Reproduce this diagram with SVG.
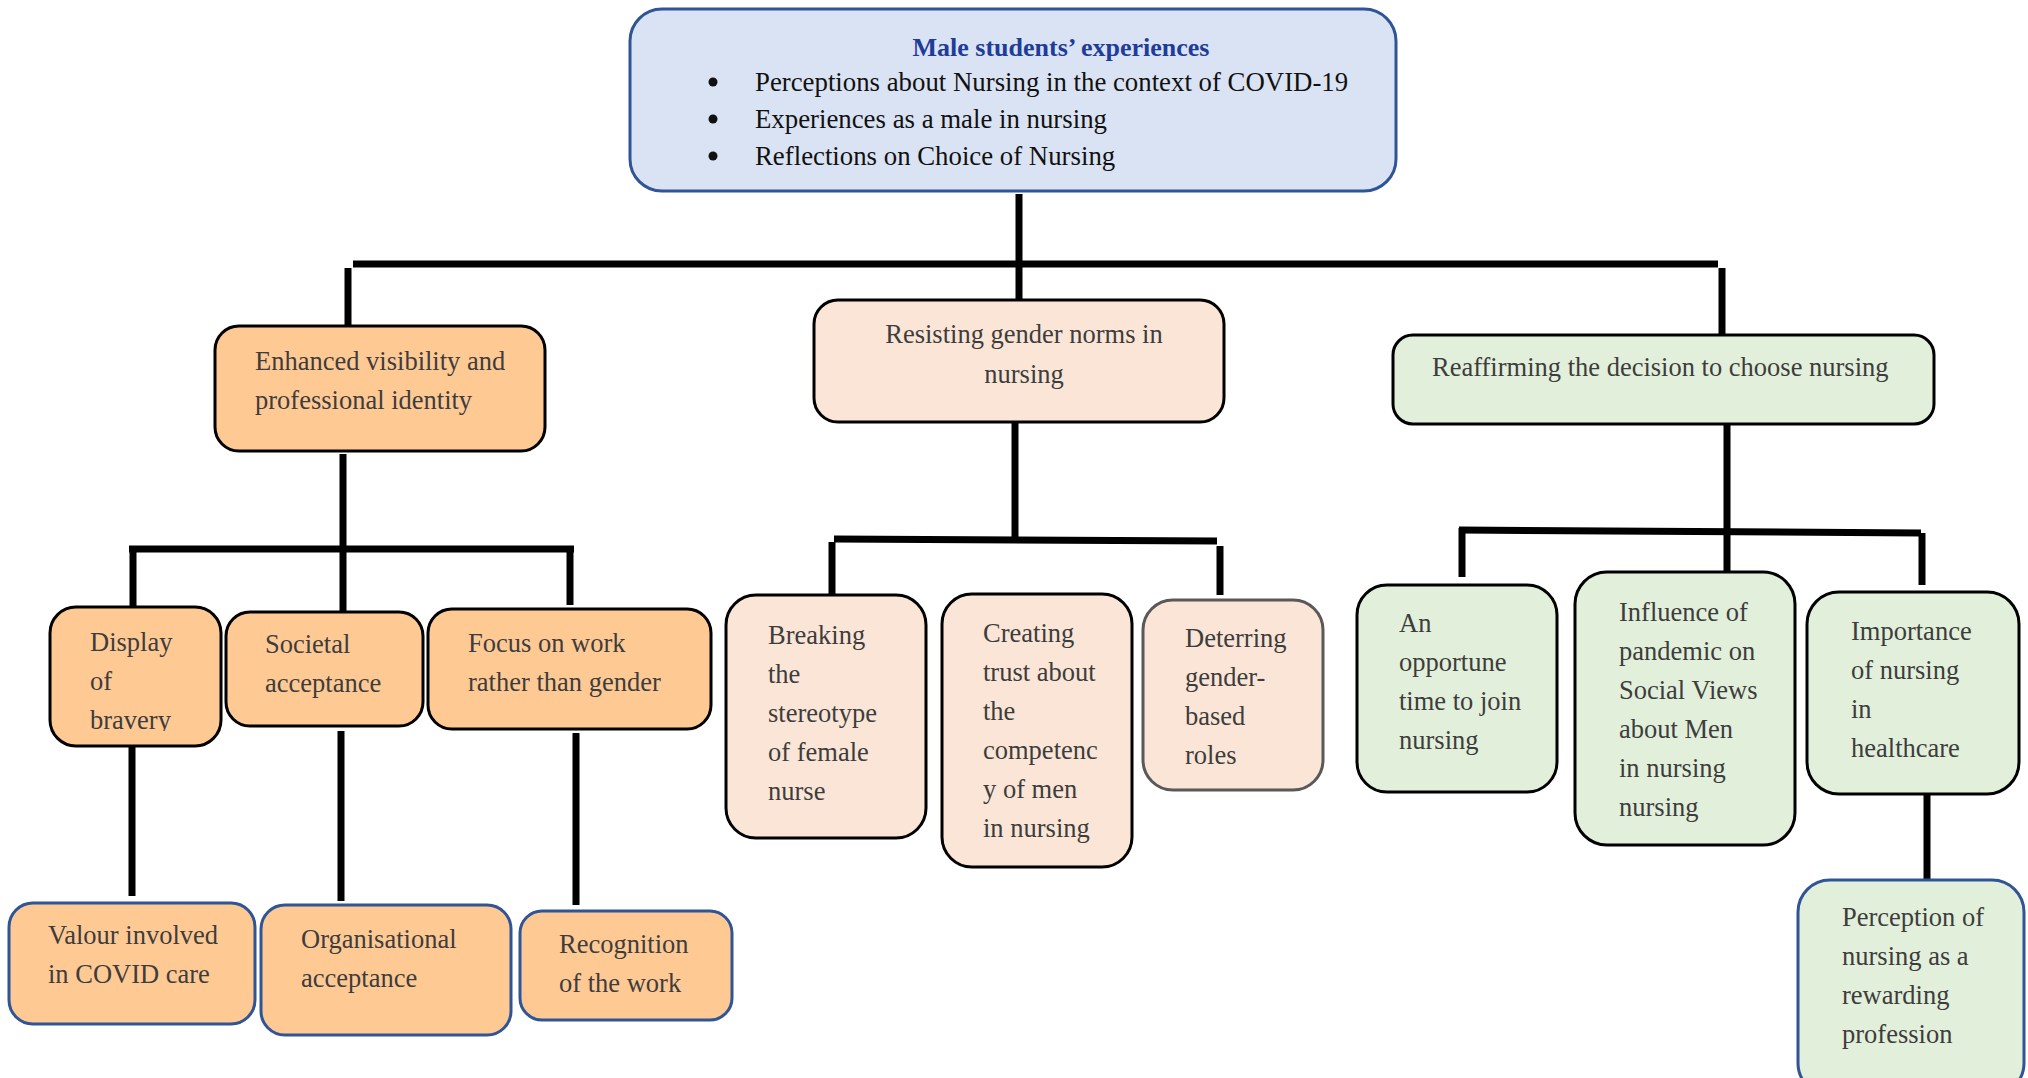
<svg xmlns="http://www.w3.org/2000/svg" width="2028" height="1078" viewBox="0 0 2028 1078">
<style>
.t{font-family:"Liberation Serif","Times New Roman",serif;font-size:26.5px;fill:#3d3d3d}
.ttl{font-family:"Liberation Serif","Times New Roman",serif;font-size:26px;font-weight:bold;fill:#1f3c99}
.bl{font-family:"Liberation Serif","Times New Roman",serif;font-size:26.8px;fill:#111}
.c{stroke:#000;stroke-width:7;fill:none}
.org{fill:#ffc994;stroke:#000;stroke-width:3}
.orgb{fill:#ffc994;stroke:#2f5597;stroke-width:3}
.pk{fill:#fbe5d6;stroke:#000;stroke-width:3}
.pkg{fill:#fbe5d6;stroke:#595959;stroke-width:3}
.gr{fill:#e2efda;stroke:#000;stroke-width:3}
.grb{fill:#e2efda;stroke:#2f5597;stroke-width:3}
</style>
<defs>
<clipPath id="clipD1"><rect x="50" y="600" width="171" height="131"/></clipPath>
</defs>
<rect width="2028" height="1078" fill="#fff"/>
<g id="connectors">
<line class="c" x1="1019" y1="194" x2="1019" y2="300"/>
<line class="c" x1="353" y1="264" x2="1718" y2="264"/>
<line class="c" x1="348" y1="268" x2="348" y2="326"/>
<line class="c" x1="1722" y1="268" x2="1722" y2="335"/>
<line class="c" x1="343" y1="454" x2="343" y2="612"/>
<line class="c" x1="129" y1="549" x2="574" y2="549"/>
<line class="c" x1="133" y1="546" x2="133" y2="607"/>
<line class="c" x1="570" y1="546" x2="570" y2="605"/>
<line class="c" x1="132" y1="746" x2="132" y2="896"/>
<line class="c" x1="341" y1="731" x2="341" y2="901"/>
<line class="c" x1="576" y1="733" x2="576" y2="905"/>
<line class="c" x1="1015" y1="422" x2="1015" y2="538"/>
<line class="c" x1="834" y1="539" x2="1217" y2="541"/>
<line class="c" x1="832" y1="542" x2="832" y2="595"/>
<line class="c" x1="1220" y1="546" x2="1220" y2="595"/>
<line class="c" x1="1727" y1="424" x2="1727" y2="572"/>
<line class="c" x1="1459" y1="530" x2="1921" y2="533"/>
<line class="c" x1="1462" y1="528" x2="1462" y2="577"/>
<line class="c" x1="1922" y1="533" x2="1922" y2="585"/>
<line class="c" x1="1927" y1="794" x2="1927" y2="880"/>
</g>
<g id="root">
<rect x="630" y="9" width="766" height="182" rx="32" fill="#dae3f3" stroke="#2f5597" stroke-width="3"/>
<text class="ttl" x="1061" y="56" text-anchor="middle">Male students’ experiences</text>
<circle cx="713" cy="82" r="4.5" fill="#111"/>
<circle cx="713" cy="119" r="4.5" fill="#111"/>
<circle cx="713" cy="156" r="4.5" fill="#111"/>
<text class="bl" x="755" y="91">Perceptions about Nursing in the context of COVID-19</text>
<text class="bl" x="755" y="128">Experiences as a male in nursing</text>
<text class="bl" x="755" y="165">Reflections on Choice of Nursing</text>
</g>
<g id="enhanced">
<rect class="org" x="215" y="326" width="330" height="125" rx="24"/>
<text class="t" x="255" y="370">Enhanced visibility and</text>
<text class="t" x="255" y="409">professional identity</text>
</g>
<g id="resisting">
<rect class="pk" x="814" y="300" width="410" height="122" rx="24"/>
<text class="t" x="1024" y="343" text-anchor="middle">Resisting gender norms in</text>
<text class="t" x="1024" y="383" text-anchor="middle">nursing</text>
</g>
<g id="reaffirming">
<rect class="gr" x="1393" y="335" width="541" height="89" rx="20"/>
<text class="t" x="1432" y="376">Reaffirming the decision to choose nursing</text>
</g>
<g id="bravery">
<rect class="org" x="50" y="607" width="171" height="139" rx="26"/>
<g clip-path="url(#clipD1)">
<text class="t" x="90" y="651">Display</text>
<text class="t" x="90" y="690">of</text>
<text class="t" x="90" y="729">bravery</text>
</g>
</g>
<g id="societal">
<rect class="org" x="226" y="612" width="197" height="114" rx="24"/>
<text class="t" x="265" y="653">Societal</text>
<text class="t" x="265" y="692">acceptance</text>
</g>
<g id="focus">
<rect class="org" x="428" y="609" width="283" height="120" rx="24"/>
<text class="t" x="468" y="652">Focus on work</text>
<text class="t" x="468" y="691">rather than gender</text>
</g>
<g id="valour">
<rect class="orgb" x="9" y="903" width="246" height="121" rx="24"/>
<text class="t" x="48" y="944">Valour involved</text>
<text class="t" x="48" y="983">in COVID care</text>
</g>
<g id="organisational">
<rect class="orgb" x="261" y="905" width="250" height="130" rx="24"/>
<text class="t" x="301" y="948">Organisational</text>
<text class="t" x="301" y="987">acceptance</text>
</g>
<g id="recognition">
<rect class="orgb" x="520" y="911" width="212" height="109" rx="22"/>
<text class="t" x="559" y="953">Recognition</text>
<text class="t" x="559" y="992">of the work</text>
</g>
<g id="breaking">
<rect class="pk" x="726" y="595" width="200" height="243" rx="30"/>
<text class="t" x="768" y="644">Breaking</text>
<text class="t" x="768" y="683">the</text>
<text class="t" x="768" y="722">stereotype</text>
<text class="t" x="768" y="761">of female</text>
<text class="t" x="768" y="800">nurse</text>
</g>
<g id="creating">
<rect class="pk" x="942" y="594" width="190" height="273" rx="30"/>
<text class="t" x="983" y="642">Creating</text>
<text class="t" x="983" y="681">trust about</text>
<text class="t" x="983" y="720">the</text>
<text class="t" x="983" y="759">competenc</text>
<text class="t" x="983" y="798">y of men</text>
<text class="t" x="983" y="837">in nursing</text>
</g>
<g id="deterring">
<rect class="pkg" x="1143" y="600" width="180" height="190" rx="30"/>
<text class="t" x="1185" y="647">Deterring</text>
<text class="t" x="1185" y="686">gender-</text>
<text class="t" x="1185" y="725">based</text>
<text class="t" x="1185" y="764">roles</text>
</g>
<g id="opportune">
<rect class="gr" x="1357" y="585" width="200" height="207" rx="30"/>
<text class="t" x="1399" y="632">An</text>
<text class="t" x="1399" y="671">opportune</text>
<text class="t" x="1399" y="710">time to join</text>
<text class="t" x="1399" y="749">nursing</text>
</g>
<g id="influence">
<rect class="gr" x="1575" y="572" width="220" height="273" rx="32"/>
<text class="t" x="1619" y="621">Influence of</text>
<text class="t" x="1619" y="660">pandemic on</text>
<text class="t" x="1619" y="699">Social Views</text>
<text class="t" x="1619" y="738">about Men</text>
<text class="t" x="1619" y="777">in nursing</text>
<text class="t" x="1619" y="816">nursing</text>
</g>
<g id="importance">
<rect class="gr" x="1807" y="592" width="212" height="202" rx="32"/>
<text class="t" x="1851" y="640">Importance</text>
<text class="t" x="1851" y="679">of nursing</text>
<text class="t" x="1851" y="718">in</text>
<text class="t" x="1851" y="757">healthcare</text>
</g>
<g id="perception">
<rect class="grb" x="1798" y="880" width="226" height="215" rx="32"/>
<text class="t" x="1842" y="926">Perception of</text>
<text class="t" x="1842" y="965">nursing as a</text>
<text class="t" x="1842" y="1004">rewarding</text>
<text class="t" x="1842" y="1043">profession</text>
</g>
</svg>
